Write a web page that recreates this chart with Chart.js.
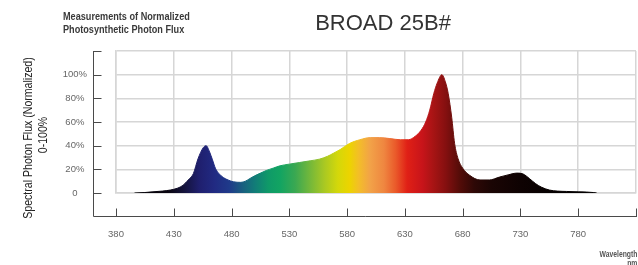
<!DOCTYPE html>
<html>
<head>
<meta charset="utf-8">
<script src="https://cdn.jsdelivr.net/npm/chart.js@4.4.1/dist/chart.umd.min.js"></script>
<style>
  body { margin: 0; background: #fff; }
  #wrap { position: relative; width: 638px; height: 265px; overflow: hidden;
    font-family: "Liberation Sans", Arial, sans-serif; }
  canvas { position: absolute; left: 0; top: 0; }
  .note { position: absolute; left: 63px; top: 10px; font-size: 11px; font-weight: bold; line-height: 13px; color: #3a3a3a;
    white-space: nowrap; transform: scaleX(0.83); transform-origin: left top; }
  .title { position: absolute; left: 383px; top: 10px; transform: translateX(-50%); white-space: nowrap;
    font-size: 22px; color: #333; }
  .ytitle { position: absolute; white-space: nowrap; font-size: 12px; color: #222;
    transform: translate(-50%, -50%) rotate(-90deg) scaleX(0.88); }
  .xunit { position: absolute; right: 1px; top: 250px; text-align: right; font-size: 8.5px; font-weight: bold; line-height: 9px; color: #555;
    transform: scaleX(0.8); transform-origin: right top; }
</style>
</head>
<body>
<div id="wrap">
  <canvas id="spectro" width="638" height="265"></canvas>
  <div class="note">Measurements of Normalized<br>Photosynthetic Photon Flux</div>
  <div class="title">BROAD 25B#</div>
  <div class="ytitle" style="left:28px; top:138px;">Spectral Photon Flux (Normalized)</div>
  <div class="ytitle" style="left:43px; top:135px;">0-100%</div>
  <div class="xunit">Wavelength<br>nm</div>
</div>
<script>
// wavelength (nm) and normalized photon flux (%)
const wavelengths = [396, 405, 412, 420, 427, 433, 438, 441, 444, 447, 451, 455.5, 458, 461, 463.5, 466, 469, 473, 477, 481.5,
  488, 492, 496, 500, 505, 510, 516, 522, 530, 539, 548, 556, 563, 568, 574, 582, 591, 600, 608, 617,
  626, 633, 639, 644, 648, 651.5, 655, 658, 662, 665, 667.5, 670.5, 673, 676, 680, 686, 695, 703, 712, 720,
  727, 732, 738, 743, 748, 755, 762, 770, 780, 787, 793, 796];
const flux = [0, 0.4, 1, 1.6, 2.5, 4, 6.5, 9.5, 12.5, 16.5, 29, 38.3, 40, 34.7, 28, 21, 16.5, 13, 11, 9.5,
  9, 10, 12.3, 14.5, 16.8, 19, 21, 23, 24.4, 25.8, 27.2, 28.6, 31, 33.5, 36.7, 41.8, 45, 46.8, 46.8, 46,
  45, 45, 48, 53, 60, 70, 84, 93, 100, 94, 84, 64, 42, 29, 21, 15, 11, 11, 13.5, 15.5,
  16.8, 16.2, 12, 8, 5, 2.5, 1.6, 1.3, 1, 0.8, 0.4, 0];

const xTicks = [380, 430, 480, 530, 580, 630, 680, 730, 780, 830];
const yTicks = [0, 20, 40, 60, 80, 100, 120];

// colour of the light at each wavelength
const spectrumStops = [
  [380, '#000000'], [425, '#08040f'], [440, '#15143f'], [452, '#1f1f6e'], [465, '#212a82'],
  [478, '#1f3a8a'], [490, '#19607f'], [500, '#127c78'], [512, '#0f9a68'], [522, '#12a462'],
  [535, '#3aa852'], [548, '#74b83a'], [560, '#a8c823'], [572, '#d4d80a'], [582, '#ecd400'],
  [590, '#f3be28'], [600, '#f2a248'], [612, '#ef8640'], [622, '#ea5a2a'], [632, '#e02016'],
  [645, '#c8141a'], [655, '#a61414'], [665, '#861010'], [678, '#520c08'], [690, '#2e0806'],
  [705, '#1a0504'], [730, '#0e0202'], [760, '#050000'], [830, '#000000']
];

function spectrumFill(context) {
  const chart = context.chart;
  if (!chart.chartArea) return null;
  const xs = chart.scales.x;
  const lo = xTicks[0], hi = xTicks[xTicks.length - 1];
  const g = chart.ctx.createLinearGradient(xs.getPixelForValue(lo), 0, xs.getPixelForValue(hi), 0);
  spectrumStops.forEach(([wl, c]) => g.addColorStop((wl - lo) / (hi - lo), c));
  return g;
}

// axis lines drawn a little away from the grid box, like the original
const outerAxes = {
  id: 'outerAxes',
  afterDraw(chart) {
    const { ctx, chartArea, scales: { x, y } } = chart;
    const ax = Math.round(chartArea.left - 23) + 0.5;
    const ay = Math.round(chartArea.bottom + 23) + 0.5;
    ctx.save();
    ctx.strokeStyle = '#4a4a4a';
    ctx.lineWidth = 1;
    ctx.beginPath();
    ctx.moveTo(ax, Math.round(y.getPixelForValue(yTicks[yTicks.length - 1])));
    ctx.lineTo(ax, ay);
    ctx.lineTo(Math.round(x.getPixelForValue(xTicks[xTicks.length - 1])) + 1, ay);
    y.ticks.forEach(t => {
      const py = Math.round(y.getPixelForValue(t.value)) + 0.5;
      ctx.moveTo(ax, py);
      ctx.lineTo(ax + 8, py);
    });
    x.ticks.forEach(t => {
      const px = Math.round(x.getPixelForValue(t.value)) + 0.5;
      ctx.moveTo(px, ay);
      ctx.lineTo(px, ay - 8);
    });
    ctx.stroke();
    ctx.restore();
  }
};

const tickFont = { family: '"Liberation Sans", Arial, sans-serif', size: 9.5 };
const gridColor = '#d6d6d6';

new Chart(document.getElementById('spectro'), {
  type: 'line',
  data: {
    datasets: [{
      data: wavelengths.map((w, i) => ({ x: w, y: flux[i] })),
      fill: 'origin',
      backgroundColor: spectrumFill,
      borderColor: spectrumFill,
      borderWidth: 1,
      pointRadius: 0,
      cubicInterpolationMode: 'monotone'
    }]
  },
  options: {
    responsive: false,
    animation: false,
    devicePixelRatio: 1,
    layout: { padding: { top: 51, right: 2, left: 0, bottom: 0 } },
    scales: {
      x: {
        type: 'linear',
        min: xTicks[0],
        max: xTicks[xTicks.length - 1],
        afterBuildTicks: s => { s.ticks = xTicks.map(v => ({ value: v })); },
        afterFit: s => { s.height = 72; s.paddingLeft = 0; s.paddingRight = 0; },
        grid: { color: gridColor, lineWidth: 1.5, drawTicks: false },
        border: { color: gridColor, width: 1.5 },
        ticks: {
          padding: 36,
          font: tickFont,
          color: '#666',
          maxRotation: 0,
          callback: v => (v === xTicks[xTicks.length - 1] ? '' : String(v))
        }
      },
      y: {
        min: yTicks[0],
        max: yTicks[yTicks.length - 1],
        afterBuildTicks: s => { s.ticks = yTicks.map(v => ({ value: v })); },
        afterFit: s => { s.width = 116; s.paddingTop = 0; s.paddingBottom = 0; },
        grid: { color: gridColor, lineWidth: 1.5, drawTicks: false },
        border: { color: gridColor, width: 1.5 },
        ticks: {
          padding: 29,
          crossAlign: 'center',
          font: tickFont,
          color: '#666',
          callback: v => (v === 0 ? '0' : v === yTicks[yTicks.length - 1] ? '' : v + '%')
        }
      }
    },
    plugins: {
      legend: { display: false },
      tooltip: { enabled: false }
    }
  },
  plugins: [outerAxes]
});
</script>
</body>
</html>
